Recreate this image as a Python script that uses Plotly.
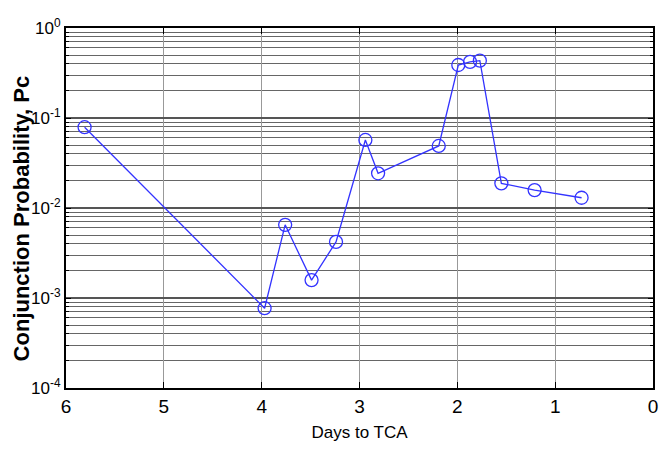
import plotly.graph_objects as go

days = [5.81, 3.97, 3.76, 3.49, 3.24, 2.94, 2.81, 2.19, 1.99, 1.87, 1.77, 1.55, 1.21, 0.73]
pc = [0.079, 7.7e-4, 6.5e-3, 1.58e-3, 4.2e-3, 0.057, 0.0243, 0.0489, 0.388, 0.42, 0.434, 0.0188, 0.0158, 0.0130]

decades = [-4, -3, -2, -1, 0]
x_ticks = [6, 5, 4, 3, 2, 1, 0]
y_major = [10 ** d for d in decades]
y_labels = [f"10<sup>{d}</sup>" for d in decades]
y_minor = [m * 10 ** d for d in decades[:-1] for m in range(2, 10)]

fig = go.Figure()
fig.add_trace(go.Scatter(
    x=days, y=pc, mode="lines+markers",
    line=dict(color="#3333ff", width=1.3),
    marker=dict(symbol="circle-open", size=13, color="#3333ff", line=dict(width=1.3)),
    showlegend=False,
))

font = "Liberation Sans, Arial, sans-serif"
fig.update_layout(
    width=666, height=451,
    margin=dict(l=66, r=8, t=28, b=63),
    paper_bgcolor="white", plot_bgcolor="white",
    font=dict(family=font, color="black"),
    xaxis=dict(
        range=[6, 0], tickvals=x_ticks, ticktext=[str(v) for v in x_ticks],
        showgrid=True, gridcolor="#999999", gridwidth=1,
        showline=True, linecolor="black", linewidth=2, mirror="allticks",
        ticks="inside", ticklen=6, tickcolor="black",
        tickfont=dict(size=19, family=font),
        title=dict(text="Days to TCA", font=dict(size=17, family=font), standoff=10),
        zeroline=False,
    ),
    yaxis=dict(
        type="log", range=[-4, 0], tickvals=y_major, ticktext=y_labels,
        showgrid=True, gridcolor="#555555", gridwidth=1.6,
        showline=True, linecolor="black", linewidth=2, mirror="allticks",
        ticks="inside", ticklen=5, tickcolor="black",
        tickfont=dict(size=17, family=font),
        minor=dict(tickvals=y_minor, showgrid=True, gridcolor="#666666", gridwidth=1.4,
                   ticks="inside", ticklen=3, tickcolor="black"),
        zeroline=False,
    ),
    annotations=[dict(
        text="<b>Conjunction Probability, Pc</b>", textangle=-90,
        xref="paper", yref="paper", x=-(66 - 21) / 592, y=(388 - 218) / 360,
        xanchor="center", yanchor="middle", showarrow=False,
        font=dict(size=22, family=font, color="black"),
    )],
)

fig.write_html("out.html")
